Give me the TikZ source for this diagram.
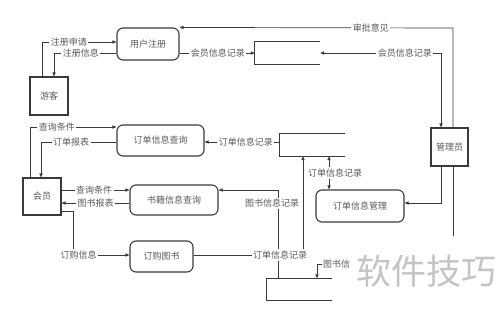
\documentclass[tikz,border=0pt]{standalone}
\usepackage{fontspec}
\setmainfont{Noto Sans CJK SC}
\usetikzlibrary{arrows.meta}
\definecolor{ln}{HTML}{3A3A3A}
\definecolor{tx}{HTML}{5A5A5A}
\definecolor{wm}{HTML}{C4C4C4}
\begin{document}
\begin{tikzpicture}[x=1pt,y=-1pt,
  >={Triangle[length=4pt,width=3.2pt]},
  txtfont/.style={font=\fontsize{9}{9}\selectfont, text=tx},
  proc/.style={draw=ln, line width=1.1pt, rounded corners=6pt, inner sep=0pt, txtfont},
  ext/.style={draw=ln, line width=1.1pt, inner sep=0pt, txtfont},
  store/.style={inner sep=0pt, minimum width=65pt, minimum height=22pt},
  storeline/.style={draw=ln, line width=1.1pt},
  flow/.style={draw=ln, line width=0.7pt, ->},
  biflow/.style={draw=ln, line width=0.7pt, <->},
  plain/.style={draw=ln, line width=0.7pt},
  lbl/.style={fill=white, inner sep=1.5pt, txtfont},
]
\useasboundingbox (0,0) rectangle (500,310);

% processes
\node[proc, minimum width=62pt, minimum height=32pt] (reg) at (148,44) {用户注册};
\node[proc, minimum width=87pt, minimum height=31pt] (oq) at (160.5,140.5) {订单信息查询};
\node[proc, minimum width=88pt, minimum height=30pt] (bq) at (174,200) {书籍信息查询};
\node[proc, minimum width=63pt, minimum height=31pt] (buy) at (161.5,256.5) {订购图书};
\node[proc, minimum width=88pt, minimum height=32pt] (om) at (360,206) {订单信息管理};

% external entities
\node[ext, minimum width=38pt, minimum height=38pt] (guest) at (49,96) {游客};
\node[ext, minimum width=38pt, minimum height=37pt] (mem) at (42,196.5) {会员};
\node[ext, minimum width=37pt, minimum height=38pt] (adm) at (449.5,147) {管理员};

% data stores
\node[store] (s1) at (287.5,53) {};
\node[store] (s2) at (312.5,145) {};
\node[store] (s3) at (299.5,289.5) {};
\draw[storeline] (s1.north east) -- (s1.north west) -- (s1.south west) -- (s1.south east);
\draw[storeline] (s2.north east) -- (s2.north west) -- (s2.south west) -- (s2.south east);
\draw[storeline] (s3.north east) -- (s3.north west) -- (s3.south west) -- (s3.south east);

% watermark
\node[font=\fontsize{35}{35}\selectfont, text=wm, inner sep=0pt] (wmark) at (426,271) {软件技巧};

% guest <-> registration
\draw[flow] (guest.north -| 42,0) -- (42,42) -- node[lbl,pos=0.36]{注册申请} (reg.west |- 0,42);
\draw[flow] (reg.west |- 0,53) -- node[lbl,pos=0.57]{注册信息} (54,53) -- (guest.north -| 54,0);

% registration -> store 1
\draw[flow] (reg.east |- 0,53) -- node[lbl,pos=0.51]{会员信息记录} (s1.west);
% admin <-> store 1
\draw[biflow] (adm.north -| 441,0) -- (441,53) -- node[lbl,pos=0.3]{会员信息记录} (s1.east);
% approval
\draw[flow] (adm.north -| 453,0) -- (453,28) -- node[lbl,pos=0.3]{审批意见} (reg.north east);
% admin bottom line
\coordinate (freeend) at (453,236);
\draw[plain] (adm.south -| 453,0) -- (freeend);
% admin -> order management
\draw[flow] (adm.south -| 441,0) -- (441,203) -- (om.east |- 0,203);

% store 2 <-> order management
\draw[biflow] (s2.south -| 329,0) -- node[lbl,pos=0.5,xshift=6pt]{订单信息记录} (om.north -| 329,0);
% store 2 -> order query
\draw[flow] (s2.west |- 0,142) -- node[lbl,pos=0.45]{订单信息记录} (oq.east |- 0,142);

% member <-> order query
\draw[flow] (oq.west |- 0,142) -- node[lbl,pos=0.6]{订单报表} (41,142) -- (mem.north -| 41,0);
\draw[flow] (mem.north -| 30,0) -- (30,127) -- node[lbl,pos=0.31]{查询条件} (oq.west |- 0,127);

% member <-> book query
\draw[flow] (mem.east |- 0,190) -- node[lbl,pos=0.48]{查询条件} (bq.west |- 0,190);
\draw[flow] (bq.west |- 0,203) -- node[lbl,pos=0.5]{图书报表} (mem.east |- 0,203);

% store 3 -> book query
\draw[flow] (s3.north -| 278,0) -- node[lbl,pos=0.85,xshift=-6pt]{图书信息记录} (278,190) -- (bq.east |- 0,190);

% member -> buy
\draw[flow] (mem.east |- 0,211) -- (73,211) -- (73,255) -- node[lbl,pos=0.1]{订购信息} (buy.west |- 0,255);
% buy -> store 2
\draw[flow] (buy.east |- 0,255) -- node[lbl,pos=0.79]{订单信息记录} (303,255) -- (s2.south -| 303,0);

% book info to store 3 (partly hidden)
\node[txtfont, inner sep=1pt, anchor=west] (tsx) at (322,264) {图书信};
\draw[flow] (tsx.west) -| (s3.north -| 317,0);
\end{tikzpicture}
\end{document}
